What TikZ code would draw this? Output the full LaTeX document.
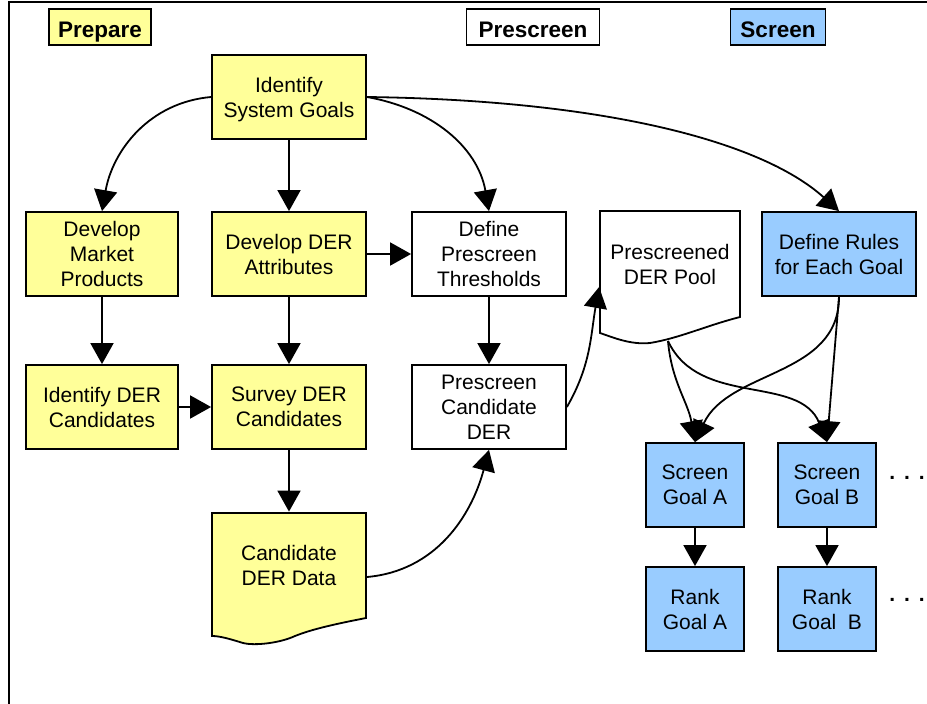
\documentclass[tikz,border=0pt]{standalone}
\usepackage{fontspec}
\setmainfont{Liberation Sans}
\usepackage{xcolor}
\usepackage{tikz}
\usetikzlibrary{arrows.meta, backgrounds}

\definecolor{prepyellow}{RGB}{255,255,153}
\definecolor{screenblue}{RGB}{153,204,255}

\tikzset{
	stage/.style={draw, line width=1.6pt, minimum height=36pt, inner sep=2pt, text height=20pt, text depth=0pt, font=\fontsize{22.5}{24}\selectfont\bfseries},
	task/.style={draw, line width=1.8pt, align=center, minimum width=154pt, minimum height=84pt, inner sep=0pt, text depth=-3pt, font=\fontsize{21}{25}\selectfont},
	goaltask/.style={task, fill=screenblue, minimum width=98pt},
	doc/.style={task, draw=none},
	flow/.style={line width=1.8pt, -{Triangle[width=23pt,length=21pt]}},
}

\begin{document}
\begin{tikzpicture}[x=1pt,y=1pt]
		\useasboundingbox (0,0) rectangle (927,-704);

		% Frame
		\draw[line width=2pt] (927,-2) -- (9,-2) -- (9,-704);

		% Stage labels
		\node[stage, fill=prepyellow, minimum width=102pt] (prepare) at (100,-27) {Prepare};
		\node[stage, fill=white, minimum width=133pt] (prescreen) at (533,-27) {Prescreen};
		\node[stage, fill=screenblue, minimum width=95pt] (screen) at (778,-27) {Screen};

		% Prepare column
		\node[task, fill=prepyellow] (goals) at (289,-97) {Identify\\System Goals};
		\node[task, fill=prepyellow, minimum width=152pt] (market) at (102,-254) {Develop\\Market\\Products};
		\node[task, fill=prepyellow] (attrib) at (289,-254) {Develop DER\\Attributes};
		\node[task, fill=prepyellow, minimum width=152pt] (identify) at (102,-407) {Identify DER\\Candidates};
		\node[task, fill=prepyellow] (survey) at (289,-407) {Survey DER\\Candidates};
		\node[doc, minimum height=105pt] (derdata) at (289,-565) {Candidate\\DER Data};

		% Prescreen column
		\node[task, fill=white] (thresh) at (489,-254) {Define\\Prescreen\\Thresholds};
		\node[task, fill=white] (precand) at (489,-407) {Prescreen\\Candidate\\DER};
		\node[doc, minimum width=140pt, minimum height=106pt] (pool) at (670,-264) {Prescreened\\DER Pool};

		% Screen column
		\node[task, fill=screenblue] (rules) at (839,-254) {Define Rules\\for Each Goal};
		\node[goaltask] (screenA) at (695,-485) {Screen\\Goal A};
		\node[goaltask] (screenB) at (827,-485) {Screen\\Goal B};
		\node[goaltask] (rankA) at (695,-609) {Rank\\Goal A};
		\node[goaltask] (rankB) at (827,-609) {Rank\\Goal~~B};
		\node[font=\fontsize{21}{24}\selectfont\bfseries] (moreA) at (907,-478) {.\hspace{9pt}.\hspace{9pt}.};
		\node[font=\fontsize{21}{24}\selectfont\bfseries] (moreB) at (907,-600) {.\hspace{9pt}.\hspace{9pt}.};

		% Document outlines
		\begin{scope}[on background layer]
			\draw[line width=1.8pt, fill=prepyellow] (212,-513) -- (366,-513) -- (366,-618)
				.. controls (330,-625) and (310,-630) .. (295,-636)
				.. controls (280,-643) and (255,-646) .. (243,-643)
				.. controls (230,-639) and (220,-636) .. (212,-636) -- cycle;
			\draw[line width=1.8pt, fill=white] (600,-211) -- (740,-211) -- (740,-317)
				.. controls (705,-326) and (680,-338) .. (650,-343)
				.. controls (630,-345) and (612,-337) .. (600,-333) -- cycle;
		\end{scope}
		\coordinate (poolbase) at (668,-341);

		% Arrows from the goals
		\draw[flow] (goals.west) to[out=185,in=80] (market.north);
		\draw[flow] (goals) -- (attrib);
		\draw[flow] (goals.east) to[out=-10,in=100] (thresh.north);
		\draw[flow] (goals.east) .. controls (600,-100) and (760,-140) .. (rules.north);

		% Prepare flow
		\draw[flow] (market) -- (identify);
		\draw[flow] (attrib) -- (survey);
		\draw[flow] (identify) -- (survey);
		\draw[flow] (attrib) -- (thresh);
		\draw[flow] (survey) -- (derdata);

		% Prescreen flow
		\draw[flow] (thresh) -- (precand);
		\draw[flow] ([yshift=-12pt]derdata.east) to[out=5,in=-105] (precand.south);
		\draw[flow] (precand.east) to[out=60,in=-100] ([yshift=-23pt]pool.west);

		% Screen flow
		\draw[flow] (poolbase) to[out=-85,in=100] (screenA.north);
		\draw[flow] (poolbase) to[out=-65,in=112] (screenB.north);
		\draw[flow] (rules.south) to[out=-90,in=65] (screenA.north);
		\draw[flow] (rules.south) -- (screenB.north);
		\draw[flow] (screenA) -- (rankA);
		\draw[flow] (screenB) -- (rankB);
	\end{tikzpicture}
\end{document}
